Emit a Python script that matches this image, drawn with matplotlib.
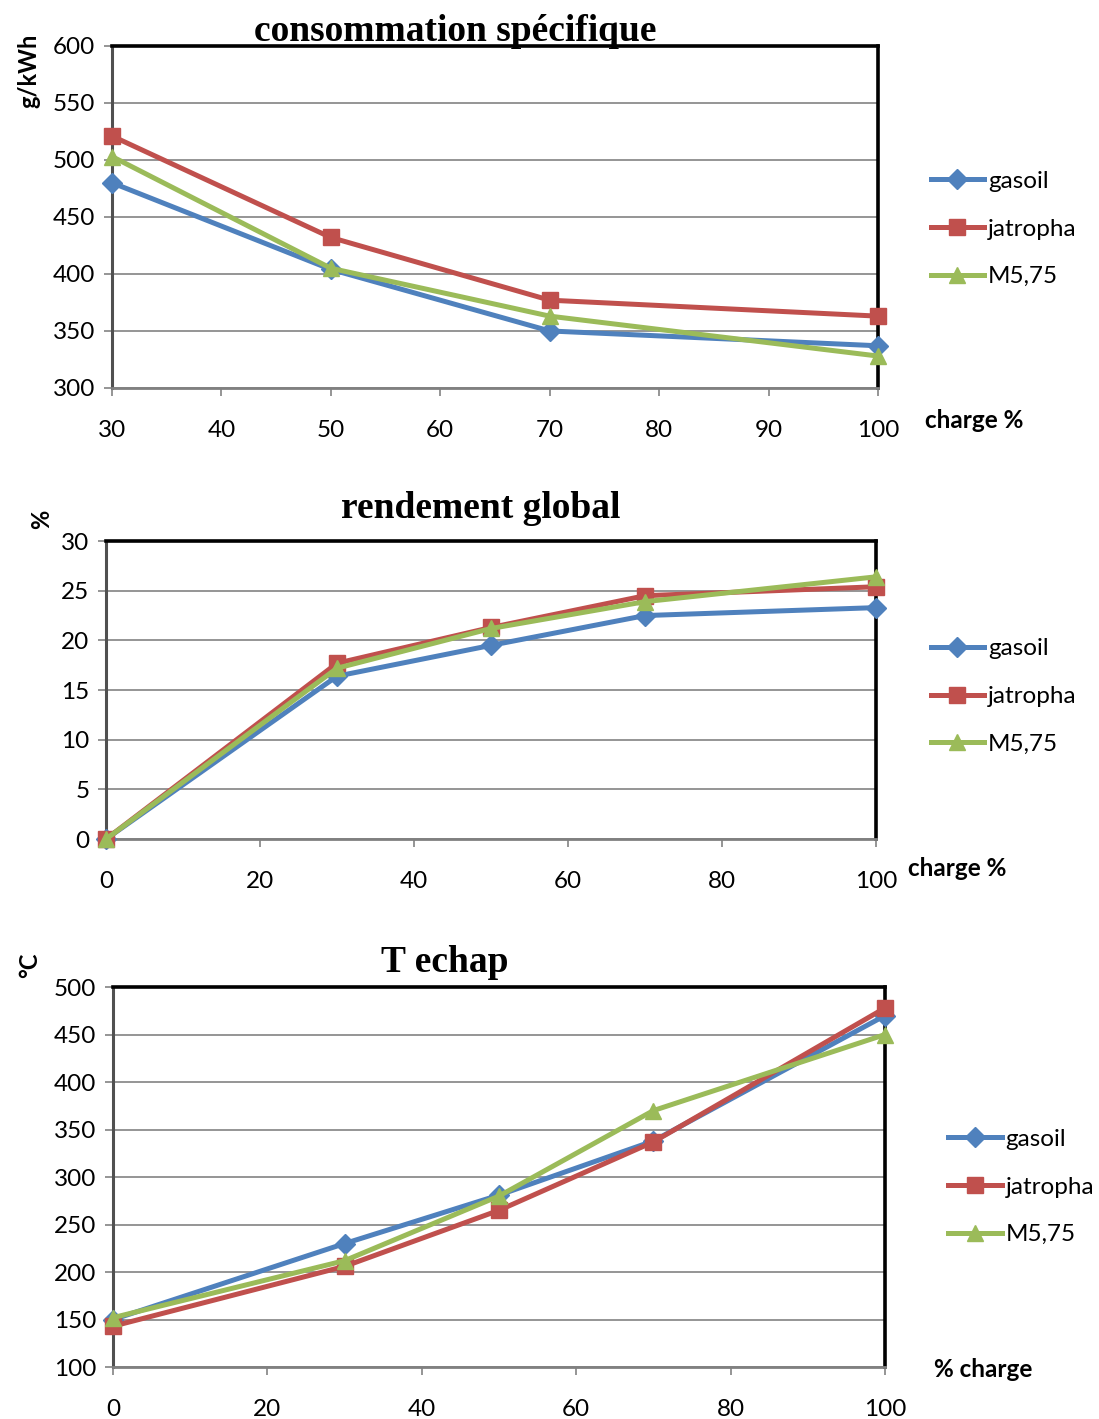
import matplotlib.pyplot as plt
from matplotlib.lines import Line2D

# specific consumption (g/kWh) vs load
charge_conso = [30, 50, 70, 100]
conso_gasoil = [480, 404, 350, 337]
conso_jatropha = [521, 432, 377, 363]
conso_m575 = [503, 405, 363, 328]

# overall efficiency (%) vs load
charge_rend = [0, 30, 50, 70, 100]
rend_gasoil = [0, 16.4, 19.5, 22.5, 23.3]
rend_jatropha = [0, 17.7, 21.3, 24.5, 25.4]
rend_m575 = [0, 17.2, 21.2, 23.9, 26.4]

# exhaust temperature (°C) vs load
charge_temp = [0, 30, 50, 70, 100]
temp_gasoil = [150, 230, 281, 338, 470]
temp_jatropha = [143, 206, 265, 337, 478]
temp_m575 = [152, 212, 280, 370, 450]

series_names = ['gasoil', 'jatropha', 'M5,75']
colors = ['#4F81BD', '#C0504D', '#9BBB59']
markers = ['D', 's', '^']
msizes = [10, 12, 12]

plt.rcParams['font.family'] = ['Lato', 'DejaVu Sans']

fig = plt.figure(figsize=(10.99, 14.19), dpi=100)


def draw_panel(rect, x, ys, xlim, xticks, ylim, yticks, title, ylabel, xlabel,
               title_pos, ylabel_pos, xlabel_pos, legend_x, legend_y):
    ax = fig.add_axes(rect)
    for y, c, m, ms in zip(ys, colors, markers, msizes):
        ax.plot(x, y, color=c, lw=3.6, marker=m, ms=ms, clip_on=False, zorder=3)
    ax.set_xlim(*xlim)
    ax.set_ylim(*ylim)
    ax.set_xticks(xticks)
    ax.set_yticks(yticks)
    ax.yaxis.grid(True, color='#8c8c8c', lw=1.3)
    ax.set_axisbelow(True)
    ax.tick_params(axis='both', direction='out', length=6, width=1.3,
                   color='#8c8c8c', labelsize=17.5)
    ax.tick_params(axis='x', pad=17)
    ax.tick_params(axis='y', pad=6)
    for s in ['top', 'right']:
        ax.spines[s].set_linewidth(2.6)
        ax.spines[s].set_color('black')
    ax.spines['left'].set_linewidth(2.2)
    ax.spines['left'].set_color('#505050')
    ax.spines['bottom'].set_linewidth(2.0)
    ax.spines['bottom'].set_color('#808080')
    fig.text(title_pos[0], title_pos[1], title, ha='center', va='center',
             fontsize=27, fontweight='bold', family='Liberation Serif')
    fig.text(ylabel_pos[0], ylabel_pos[1], ylabel, rotation=90, ha='center',
             va='center', fontsize=17, fontweight='bold')
    fig.text(xlabel_pos[0], xlabel_pos[1], xlabel, ha='left', va='center',
             fontsize=17.5, fontweight='bold')
    handles = [Line2D([], [], color=c, lw=3.6, marker=m, ms=ms)
               for c, m, ms in zip(colors, markers, msizes)]
    fig.legend(handles, series_names, loc='center left',
               bbox_to_anchor=(legend_x, legend_y), frameon=False,
               fontsize=17.5, handlelength=2.2, handletextpad=0.15,
               labelspacing=1.1, borderaxespad=0)
    return ax


draw_panel([0.1019, 0.7266, 0.697, 0.241], charge_conso,
           [conso_gasoil, conso_jatropha, conso_m575],
           (30, 100), range(30, 101, 10), (300, 600), range(300, 601, 50),
           'consommation spécifique', 'g/kWh', 'charge %',
           (0.414, 0.978), (0.026, 0.95), (0.842, 0.704), 0.838, 0.8386)

draw_panel([0.0965, 0.4087, 0.7006, 0.210], charge_rend,
           [rend_gasoil, rend_jatropha, rend_m575],
           (0, 100), range(0, 101, 20), (0, 30), range(0, 31, 5),
           'rendement global', '%', 'charge %',
           (0.437, 0.6415), (0.038, 0.634), (0.826, 0.388), 0.838, 0.509)

draw_panel([0.1028, 0.0366, 0.7025, 0.2678], charge_temp,
           [temp_gasoil, temp_jatropha, temp_m575],
           (0, 100), range(0, 101, 20), (100, 500), range(100, 501, 50),
           'T echap', '°C', '% charge',
           (0.405, 0.3215), (0.027, 0.32), (0.85, 0.035), 0.854, 0.1635)

fig.savefig('out.png', dpi=100)
